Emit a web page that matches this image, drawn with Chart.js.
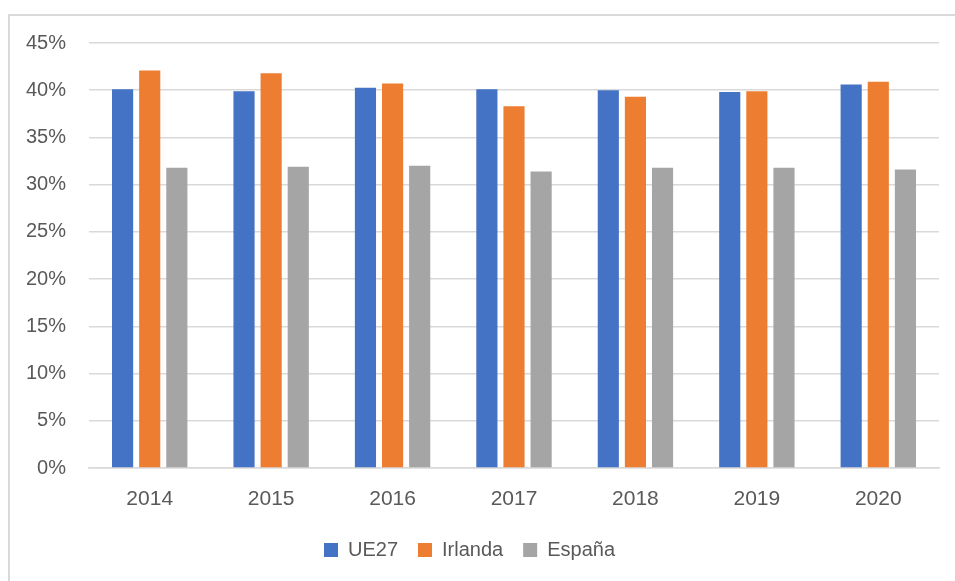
<!DOCTYPE html>
<html lang="es">
<head>
  <meta charset="UTF-8">
  <title>UE27 / Irlanda / España</title>
  <script src="https://cdn.jsdelivr.net/npm/chart.js"></script>
  <style>
    html, body {
      margin: 0;
      padding: 0;
      background: #fff;
      overflow: hidden;
    }
    .frame {
      position: absolute;
      left: 8px;
      top: 14px;
      width: 1000px;
      height: 700px;
      border: 2px solid #d9d9d9;
    }
    .chart-container {
      position: absolute;
      left: 0;
      top: 0;
      width: 955px;
      height: 581px;
    }
  </style>
</head>
<body>
  <div class="frame"></div>
  <div class="chart-container">
    <canvas id="chart"></canvas>
  </div>

  <script>
    // Data (values in %)
    const years = ['2014', '2015', '2016', '2017', '2018', '2019', '2020'];
    const ue27 = [40.1, 39.9, 40.25, 40.1, 40.0, 39.8, 40.6];
    const irlanda = [42.1, 41.8, 40.7, 38.3, 39.3, 39.9, 40.9];
    const espana = [31.8, 31.9, 32.0, 31.4, 31.8, 31.8, 31.6];
    const yTicks = [0, 5, 10, 15, 20, 25, 30, 35, 40, 45];

    const font = { family: '"Liberation Sans", Arial, sans-serif', size: 20 };
    const textColor = '#595959';

    const ctx = document.getElementById('chart').getContext('2d');
    new Chart(ctx, {
      type: 'bar',
      data: {
        labels: years,
        datasets: [
          { label: 'UE27', data: ue27, backgroundColor: '#4472C4' },
          { label: 'Irlanda', data: irlanda, backgroundColor: '#ED7D31' },
          { label: 'España', data: espana, backgroundColor: '#A5A5A5' }
        ]
      },
      options: {
        responsive: true,
        maintainAspectRatio: false,
        animation: false,
        layout: { padding: { left: 0, right: 16, top: 43, bottom: 11 } },
        datasets: {
          bar: { barPercentage: 0.78, categoryPercentage: 0.67 }
        },
        scales: {
          y: {
            min: 0,
            max: 45,
            afterFit: (s) => { s.width = 89; },
            afterBuildTicks: (s) => { s.ticks = yTicks.map(v => ({ value: v })); },
            border: { display: false },
            grid: { color: '#d9d9d9', lineWidth: 1.5, drawTicks: false },
            ticks: {
              font: font,
              color: textColor,
              padding: 23,
              callback: (v) => v + '%'
            }
          },
          x: {
            afterFit: (s) => { s.height = 52; },
            border: { display: true, color: '#d9d9d9', width: 1.5 },
            grid: { display: false, drawTicks: false },
            ticks: { font: { family: font.family, size: 21 }, color: textColor, padding: 19 }
          }
        },
        plugins: {
          tooltip: { enabled: false },
          legend: {
            position: 'bottom',
            labels: {
              font: font,
              color: textColor,
              boxWidth: 14,
              boxHeight: 14,
              padding: 20
            }
          }
        }
      }
    });
  </script>
</body>
</html>
